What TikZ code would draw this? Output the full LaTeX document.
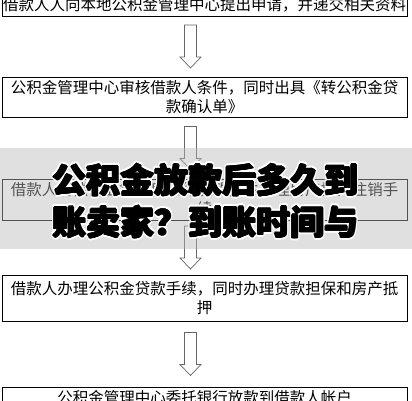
\documentclass[tikz,border=0pt]{standalone}
\usepackage{fontspec}
\setmainfont{Noto Sans CJK SC}
\newfontfamily\titlefont{Noto Sans CJK SC}
\usetikzlibrary{calc}
\tikzset{
  box/.style={draw,line width=0.9pt,minimum width=405,inner sep=0pt,align=center,
    font=\fontsize{15.5}{19}\selectfont},
  band/.style={fill=black!27,fill opacity=0.45},
  headline/.style={inner sep=0pt,align=center,font=\titlefont\bfseries\fontsize{34}{42}\selectfont},
  pics/downarrow/.style={code={
    \draw[black!60,line width=0.7pt,fill=white] (-6,-21.5) -- (6,-21.5) -- (6,10.5) -- (10.5,10.5)
      -- (0,21.5) -- (-10.5,10.5) -- (-6,10.5) -- cycle;}}
}
\newcommand\headtext{公积金放款后多久到\\账卖家？到账时间与}
\begin{document}
\begin{tikzpicture}[x=1pt,y=-1pt]
\useasboundingbox (0,0) rectangle (412,400);
\clip (0,0) rectangle (412,400);
% steps
\node[box,minimum height=22] (b1) at (204.5,5) {借款人人向本地公积金管理中心提出申请，并递交相关资料};
\node[box,minimum height=40] (b2) at (204.5,97) {公积金管理中心审核借款人条件，同时出具《转公积金贷\\款确认单》};
\node[box,minimum height=41] (b3) at (204.5,199.5) {借款人清偿商业贷款后银行放款，并办理房产抵押注销手\\续};
\node[box,minimum height=46] (b4) at (204.5,298) {借款人办理公积金贷款手续，同时办理贷款担保和房产抵\\押};
\node[box,minimum height=22] (b5) at (204.5,398) {公积金管理中心委托银行放款到借款人帐户};
% arrows
\pic at ($(b1.south)!0.5!(b2.north)+(-14,0)$) {downarrow};
\pic at ($(b2.south)!0.5!(b3.north)+(-14,0)$) {downarrow};
\pic at ($(b3.south)!0.5!(b4.north)+(-14,0)$) {downarrow};
\pic at ($(b4.south)!0.5!(b5.north)+(-14,0)$) {downarrow};
% title over the band
\fill[band] (0,148) rectangle (412,249);
\coordinate (t) at (205.5,201);
\foreach \a in {0,30,...,330}
  \node[headline,white] at ($(t)+(\a:2.4)$) {\headtext};
\foreach \a in {0,60,...,300}
  \node[headline] at ($(t)+(\a:0.7)$) {\headtext};
\node[headline] (ttl) at (t) {\headtext};
\end{tikzpicture}
\end{document}
